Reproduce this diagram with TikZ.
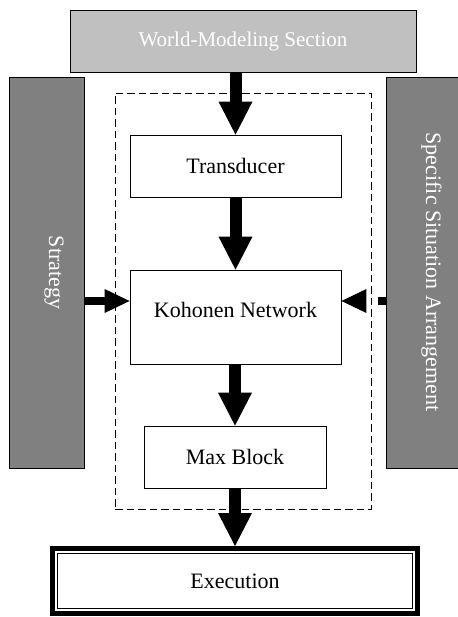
\documentclass[tikz,border=0pt]{standalone}
\usepackage{fontspec}
\setmainfont{Liberation Serif}
\usetikzlibrary{arrows.meta,calc}
\definecolor{panelLight}{RGB}{192,192,192}
\definecolor{panelDark}{RGB}{128,128,128}
\begin{document}
\begin{tikzpicture}[x=1pt,y=1pt]
\tikzset{
  labelfont/.style={font=\fontsize{22}{26}\selectfont},
  box/.style={draw=black, line width=0.8pt, fill=white, inner sep=0pt, labelfont},
  panel/.style={draw=black, line width=0.8pt, inner sep=0pt},
  paneltext/.style={text=white, inner sep=0pt, labelfont},
  bigflow/.style={line width=12pt, -{Triangle[length=33pt,width=34pt,line width=0pt]}},
  sideflow/.style={line width=8pt, -{Triangle[length=25pt,width=24pt,line width=0pt]}},
}
\useasboundingbox (0,0) rectangle (457,-617);

% side panels and the top section
\node[panel, fill=panelLight, minimum width=346pt, minimum height=62pt,
      text=white, font=\fontsize{21}{25}\selectfont] (world) at (243,-41) {World-Modeling Section};
\node[panel, fill=panelDark, minimum width=75pt, minimum height=391pt] (strategy) at (46.5,-272.5) {};
\node[paneltext, rotate=-90, anchor=base] (strategylabel) at (49,-272.5) {Strategy};
\node[panel, fill=panelDark, minimum width=94pt, minimum height=391pt] (specific) at (433,-272.5) {};
\node[paneltext, rotate=-90, anchor=base] (specificlabel) at (426,-272) {Specific Situation Arrangement};

% dashed group around the decision chain
\node[draw, dash pattern=on 7.5pt off 4pt, line width=0.8pt,
      minimum width=256pt, minimum height=416pt, inner sep=0pt] (core) at (243,-301) {};

% processing blocks
\node[box, minimum width=211pt, minimum height=62pt] (transducer) at (235.5,-166) {Transducer};
\node[box, minimum width=211pt, minimum height=94pt, text depth=14pt] (kohonen) at (235.5,-317) {Kohonen Network};
\node[box, minimum width=182pt, minimum height=62pt] (maxblock) at (235,-457) {Max Block};
\node[box, line width=5pt, minimum width=365pt, minimum height=65pt] (exec) at (235,-581) {Execution};
\draw[line width=1pt] ([shift={(7.3,-7.3)}]exec.north west) rectangle ([shift={(-7.3,7.3)}]exec.south east);

% main flow
\draw[bigflow] (world.south -| transducer.north) -- (transducer.north);
\draw[bigflow] (transducer.south) -- (kohonen.north);
\draw[bigflow] (kohonen.south -| maxblock.north) -- (maxblock.north);
\draw[bigflow] (maxblock.south) -- (exec.north -| maxblock.south);

% side inputs
\coordinate (sideline) at (0,-301);
\draw[sideflow] (strategy.east |- sideline) -- (kohonen.west |- sideline);
\draw[sideflow, dash pattern=on 8pt off 20pt] (specific.west |- sideline) -- (kohonen.east |- sideline);
\end{tikzpicture}
\end{document}
